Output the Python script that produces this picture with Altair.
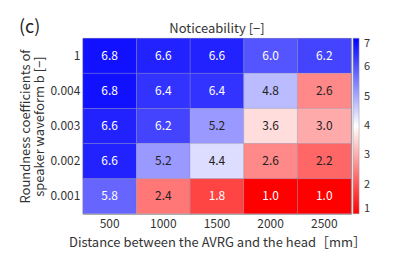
import altair as alt
import pandas as pd

distances = ["500", "1000", "1500", "2000", "2500"]
roundness = ["1", "0.004", "0.003", "0.002", "0.001"]
values = [
    [6.8, 6.6, 6.6, 6.0, 6.2],
    [6.8, 6.4, 6.4, 4.8, 2.6],
    [6.6, 6.2, 5.2, 3.6, 3.0],
    [6.6, 5.2, 4.4, 2.6, 2.2],
    [5.8, 2.4, 1.8, 1.0, 1.0],
]

rows = []
for i, r in enumerate(roundness):
    for j, d in enumerate(distances):
        rows.append({"dist": d, "round": r, "val": values[i][j]})
df = pd.DataFrame(rows)

font = "Noto Sans CJK JP"
tc = "#333333"

base = alt.Chart(df).encode(
    x=alt.X("dist:N", sort=distances,
            axis=alt.Axis(title="Distance between the AVRG and the head［mm］",
                          labelAngle=0, ticks=False, domain=False,
                          labelPadding=5, titlePadding=7,
                          labelFontSize=12, titleFontSize=13,
                          labelFont=font, titleFont=font,
                          labelColor=tc, titleColor=tc, titleFontWeight="normal")),
    y=alt.Y("round:N", sort=roundness,
            axis=alt.Axis(title=["Roundness coefficients of", "speaker waveform b [−]"],
                          ticks=False, domain=False, labelPadding=3, titlePadding=3,
                          labelFontSize=12, titleFontSize=13,
                          labelFont=font, titleFont=font,
                          labelColor=tc, titleColor=tc, titleFontWeight="normal",
                          titleLineHeight=14)),
)

rect = base.mark_rect(stroke="#8888aa", strokeWidth=0.5, strokeOpacity=0.6).encode(
    color=alt.Color("val:Q",
                    scale=alt.Scale(domain=[1, 4, 7], range=["#ff0000", "#ffffff", "#0000ff"],
                                    interpolate="rgb"),
                    legend=alt.Legend(title=None, gradientLength=176, gradientThickness=6,
                                      offset=2, values=[1, 2, 3, 4, 5, 6, 7],
                                      labelFontSize=11, labelFont=font, labelColor=tc,
                                      gradientStrokeColor="#999", gradientStrokeWidth=0.5,
                                      labelOffset=5))
)

text = base.mark_text(fontSize=12, font=font).encode(
    text=alt.Text("val:Q", format=".1f"),
    color=alt.condition("datum.val >= 5.5 || datum.val <= 2.0",
                        alt.value("white"), alt.value("#222222")),
)

label = alt.Chart(pd.DataFrame({"t": ["(c)"]})).mark_text(
    fontSize=18, font=font, align="left", baseline="middle", color="#222"
).encode(text="t:N", x=alt.value(-64), y=alt.value(-10))

title = alt.Chart(pd.DataFrame({"t": ["Noticeability [−]"]})).mark_text(
    fontSize=13, font=font, align="center", baseline="bottom", color=tc
).encode(text="t:N", x=alt.value(134.5), y=alt.value(-2))

chart = alt.layer(rect, text, label, title).properties(
    width=269, height=176,
    autosize=alt.AutoSizeParams(type="none"),
    padding={"left": 75, "top": 30, "right": 40, "bottom": 40},
).configure_view(stroke="#999999", strokeWidth=1)

chart.save("out.html", embed_options={"renderer": "svg", "actions": False})
